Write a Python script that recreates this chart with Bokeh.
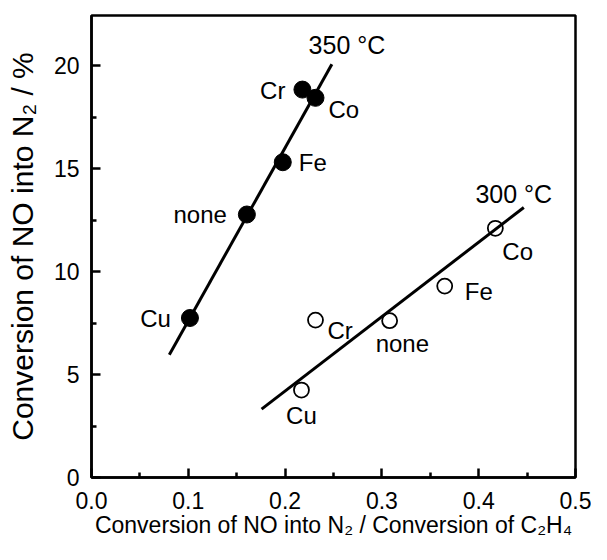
from bokeh.plotting import figure
from bokeh.models import Range1d, FixedTicker, PrintfTickFormatter, ColumnDataSource, Label
from bokeh.core.properties import value
from bokeh.embed import file_html
from bokeh.resources import INLINE

# ---- data ----
catalysts = ["none", "Cu", "Cr", "Fe", "Co"]
ratio_350 = [0.1605, 0.1017, 0.2179, 0.1976, 0.2314]
conv_350 = [12.78, 7.75, 18.85, 15.32, 18.45]
ratio_300 = [0.308, 0.2169, 0.2314, 0.3649, 0.4172]
conv_300 = [7.62, 4.25, 7.65, 9.30, 12.11]

fit_350_x = [0.0804, 0.2483]
fit_350_y = [5.97, 20.08]
fit_300_x = [0.1757, 0.4466]
fit_300_y = [3.32, 13.12]

x_ticks = [0.0, 0.1, 0.2, 0.3, 0.4, 0.5]
y_ticks = [0, 5, 10, 15, 20]

FONT = "Liberation Sans"

p = figure(width=591, height=544, output_backend="svg", toolbar_location=None,
           x_range=Range1d(0, 0.5), y_range=Range1d(0, 22.45),
           min_border_left=91, min_border_right=16, min_border_top=15, min_border_bottom=67)
p.grid.visible = False
p.outline_line_color = "black"
p.outline_line_width = 2.5
p.background_fill_color = "white"
p.border_fill_color = "white"

for ax in (p.xaxis, p.yaxis):
    ax.axis_line_width = 2.5
    ax.major_tick_in = 9
    ax.major_tick_out = 0
    ax.minor_tick_in = 5
    ax.minor_tick_out = 0
    ax.major_tick_line_width = 2.5
    ax.minor_tick_line_width = 2.5
    ax.major_label_text_font = FONT
    ax.major_label_text_font_size = "23px"
    ax.major_label_text_color = "black"
    ax.axis_label_text_font = FONT
    ax.axis_label_text_font_style = "normal"
    ax.axis_label_text_color = "black"

p.xaxis.ticker = FixedTicker(ticks=x_ticks, minor_ticks=[0.05, 0.15, 0.25, 0.35, 0.45])
p.yaxis.ticker = FixedTicker(ticks=y_ticks, minor_ticks=[2.5, 7.5, 12.5, 17.5])
p.xaxis.formatter = PrintfTickFormatter(format="%.1f")
p.yaxis.formatter = PrintfTickFormatter(format="%d")
p.xaxis.major_label_standoff = 14
p.yaxis.major_label_standoff = 12
p.xaxis.axis_label_standoff = 0
p.yaxis.axis_label_standoff = 12
p.xaxis.axis_label_text_font_size = "23px"
p.yaxis.axis_label_text_font_size = "30px"
p.xaxis.axis_label = "Conversion of NO into N\u2082 / Conversion of C\u2082H\u2084"
p.yaxis.axis_label = "Conversion of NO into N\u2082 / %"

# fit lines
p.line(fit_350_x, fit_350_y, line_color="black", line_width=3)
p.line(fit_300_x, fit_300_y, line_color="black", line_width=3)

# points
src350 = ColumnDataSource(dict(x=ratio_350, y=conv_350, name=catalysts))
src300 = ColumnDataSource(dict(x=ratio_300, y=conv_300, name=catalysts))
p.scatter("x", "y", source=src350, size=17, marker="circle", fill_color="black", line_color="black")
p.scatter("x", "y", source=src300, size=15, marker="circle", fill_alpha=0,
          line_color="black", line_width=1.8)

# point labels (screen offsets, y down)
off350 = {"none": ("right", -20, 0), "Cu": ("right", -19, 0), "Cr": ("right", -17, 1),
          "Fe": ("left", 16, 0), "Co": ("left", 13, 12)}
off300 = {"none": ("left", -14, 23), "Cu": ("center", 0, 25), "Cr": ("left", 12, 10),
          "Fe": ("left", 20, 5), "Co": ("left", 7, 23)}

for src, offs in ((src350, off350), (src300, off300)):
    d = src.data
    lab = ColumnDataSource(dict(
        x=d["x"], y=d["y"], name=d["name"],
        align=[offs[n][0] for n in d["name"]],
        dx=[offs[n][1] for n in d["name"]],
        dy=[offs[n][2] for n in d["name"]],
    ))
    p.text("x", "y", text="name", source=lab, text_align="align", x_offset="dx", y_offset="dy",
           text_baseline="alphabetic", text_font=value(FONT), text_font_size="24px",
           text_color="black")

p.add_layout(Label(x=0.2243, y=21.01, text="350 \u00b0C", text_font=FONT, text_font_size="25px",
                   text_baseline="alphabetic", text_color="black"))
p.add_layout(Label(x=0.3966, y=13.79, text="300 \u00b0C", text_font=FONT, text_font_size="25px",
                   text_baseline="alphabetic", text_color="black"))

open("out.html", "w").write(file_html(p, INLINE))
